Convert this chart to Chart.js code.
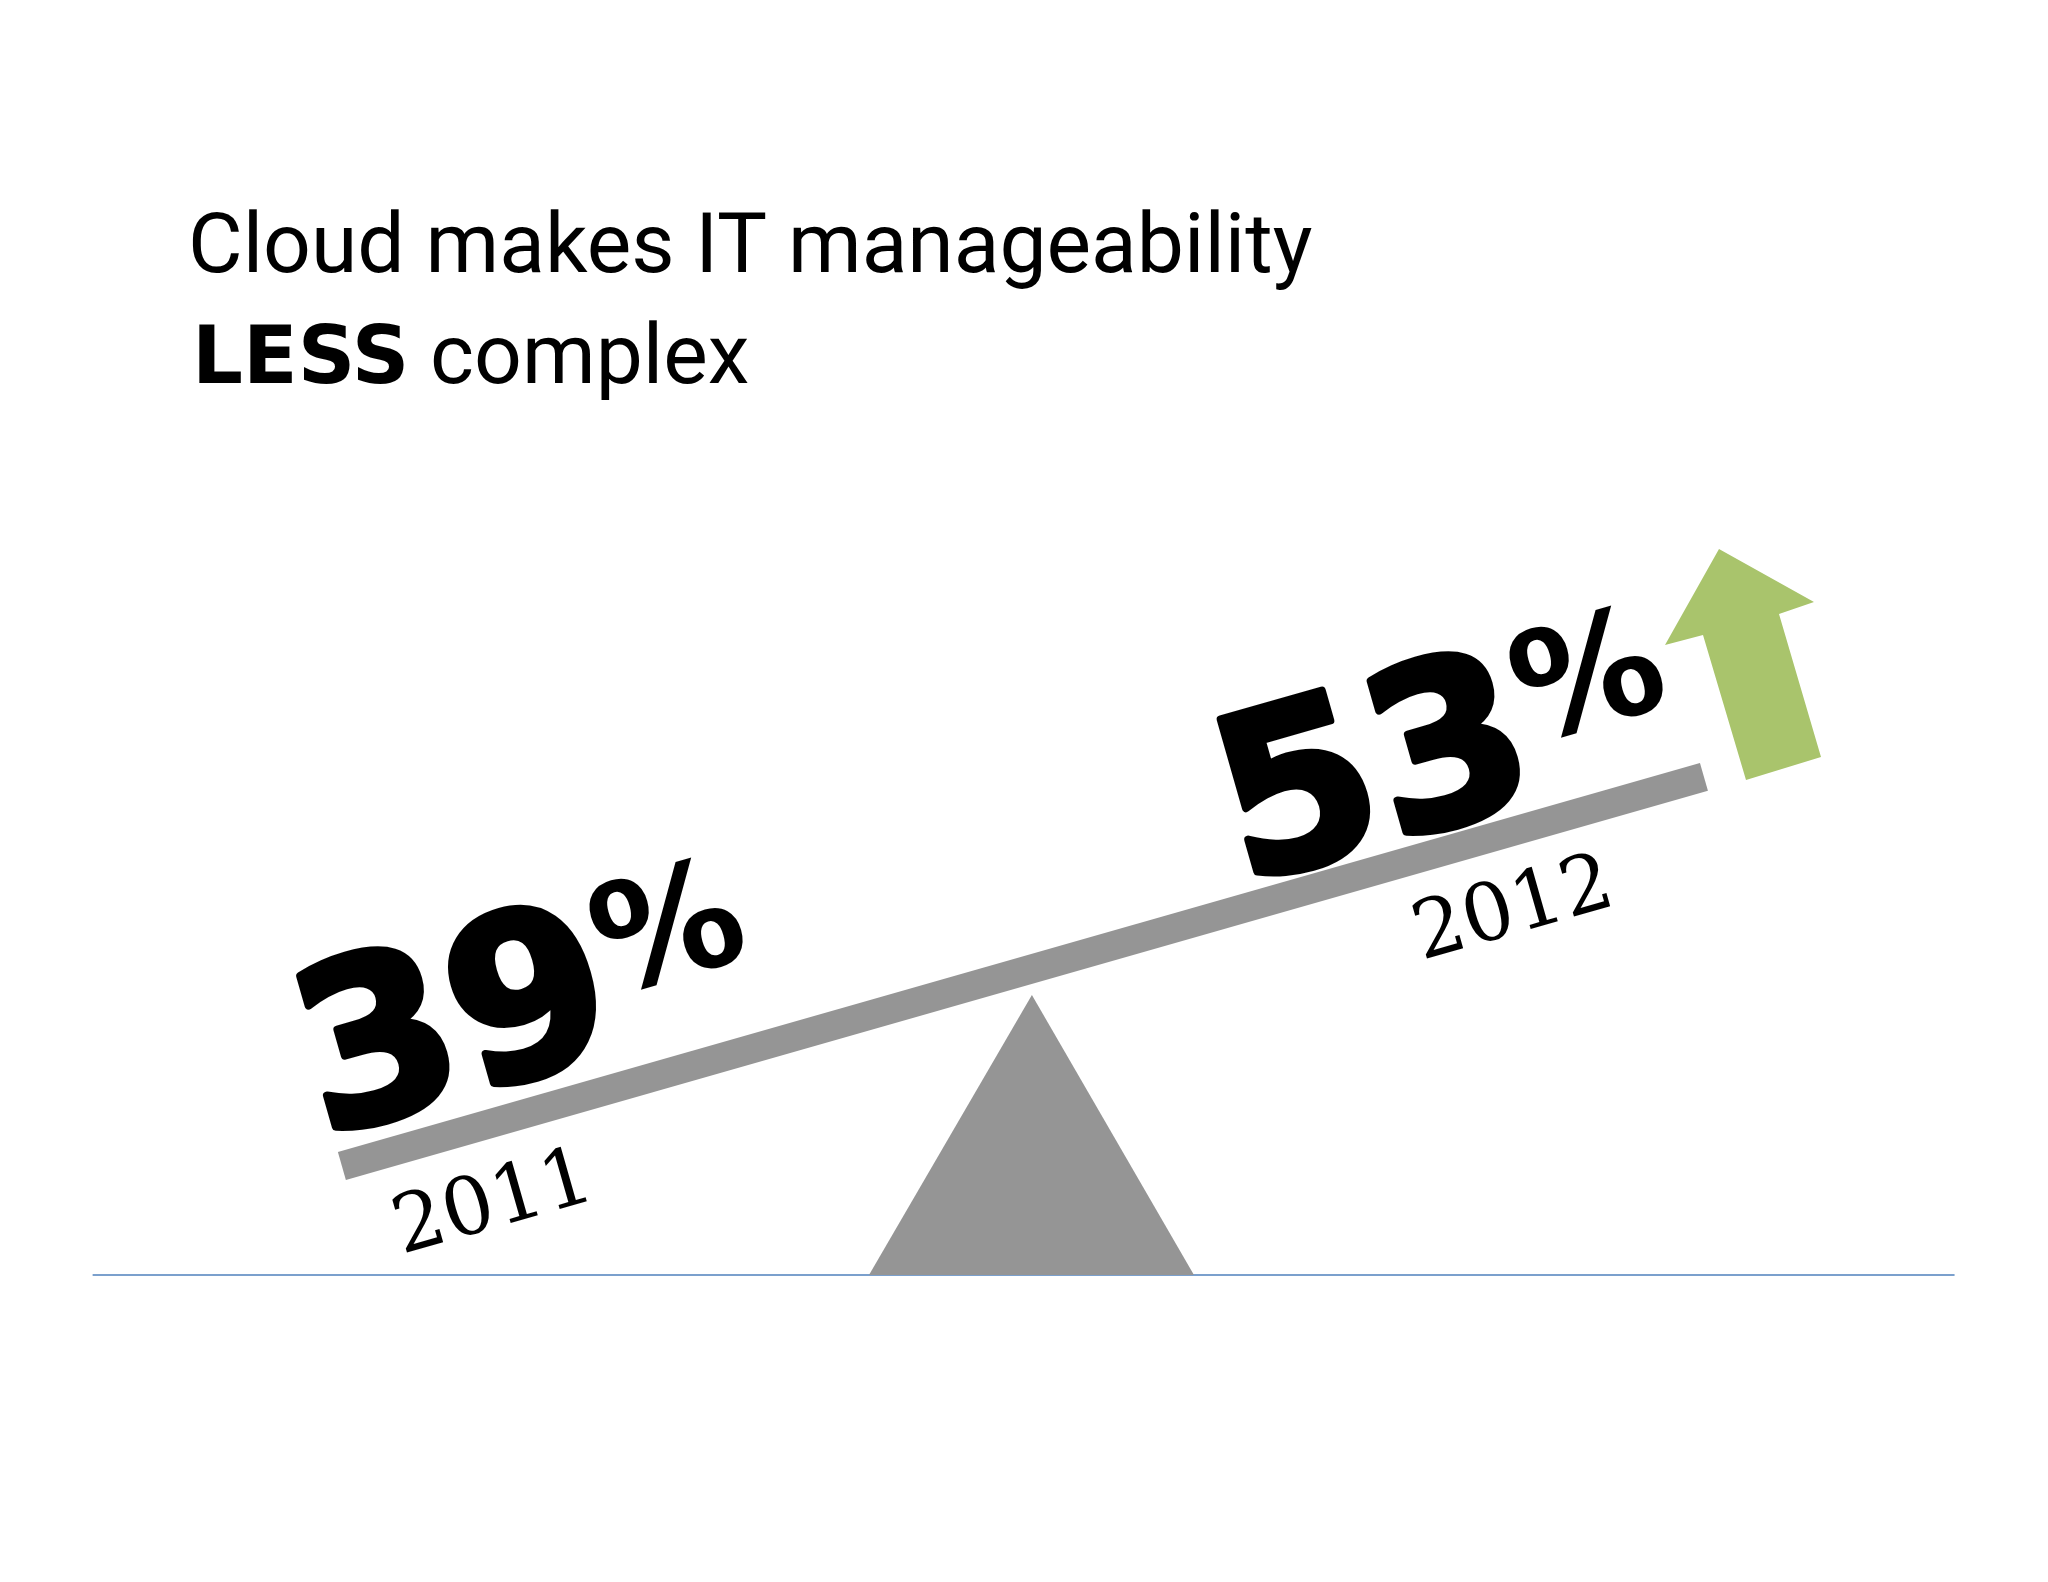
<!DOCTYPE html>
<html>
<head>
<meta charset="utf-8">
<script src="https://cdn.jsdelivr.net/npm/chart.js@4.4.0/dist/chart.umd.min.js"></script>
<style>
  html, body { margin: 0; padding: 0; background: #fff; }
  #wrap { width: 2048px; height: 1582px; }
</style>
</head>
<body>
<div id="wrap"><canvas id="seesaw" width="2048" height="1582"></canvas></div>
<script>
// data
const years = [2011, 2012];
const shares = [39, 53];
const titleLine1 = 'Cloud makes IT manageability';
const titleBold = 'LESS';
const titleRest = ' complex';

const beamColor = '#959595';
const arrowColor = '#a9c46c';

// fulcrum triangle and ground line, in axis units
const fulcrumX = [2011.387, 2011.5066, 2011.6256];
const groundY = 35.08;
const fulcrumTopY = 45.15;

const textPlugin = {
  id: 'seesawText',
  afterDatasetsDraw(chart) {
    const ctx = chart.ctx;
    const xs = chart.scales.x, ys = chart.scales.y;
    const x0 = xs.getPixelForValue(years[0]), y0 = ys.getPixelForValue(shares[0]);
    const x1 = xs.getPixelForValue(years[1]), y1 = ys.getPixelForValue(shares[1]);
    const ang = Math.atan2(y1 - y0, x1 - x0);

    // title
    ctx.save();
    ctx.fillStyle = '#000';
    ctx.textBaseline = 'alphabetic';
    ctx.font = '400 84px Roboto';
    ctx.fillText(titleLine1, 188, 272);
    ctx.font = '900 80px "DejaVu Sans"';
    ctx.fillText(titleBold, 192, 383);
    const w = ctx.measureText(titleBold).width;
    ctx.font = '400 84px Roboto';
    ctx.fillText(titleRest, 192 + w, 383);
    ctx.restore();

    // values and years along the beam
    const labels = [
      { v: shares[0], y: years[0], cx: 525, cy: 1000, yx: 494, yy: 1206 },
      { v: shares[1], y: years[1], cx: 1445, cy: 748, yx: 1514, yy: 912 }
    ];
    labels.forEach(l => {
      ctx.save();
      ctx.translate(l.cx, l.cy);
      ctx.rotate(ang);
      ctx.fillStyle = '#000';
      ctx.strokeStyle = '#000';
      ctx.lineWidth = 8;
      ctx.lineJoin = 'round';
      ctx.textBaseline = 'alphabetic';
      ctx.font = 'bold 225px "DejaVu Sans"';
      const num = String(l.v);
      const nw = ctx.measureText(num).width;
      ctx.font = 'bold 150px "DejaVu Sans"';
      const pw = ctx.measureText('%').width;
      const tot = nw + pw;
      ctx.font = 'bold 225px "DejaVu Sans"';
      ctx.fillText(num, -tot / 2, 75);
      ctx.strokeText(num, -tot / 2, 75);
      ctx.font = 'bold 150px "DejaVu Sans"';
      ctx.fillText('%', -tot / 2 + nw, 20);
      ctx.restore();

      ctx.save();
      ctx.translate(l.yx, l.yy);
      ctx.rotate(ang);
      ctx.fillStyle = '#000';
      ctx.textAlign = 'center';
      ctx.textBaseline = 'middle';
      ctx.font = '80px "DejaVu Serif"';
      ctx.fillText(String(l.y), 0, 0);
      ctx.restore();
    });

    // green up arrow
    ctx.save();
    ctx.fillStyle = arrowColor;
    ctx.beginPath();
    [[1719, 549], [1814, 602], [1779, 614], [1821, 757], [1746, 780], [1703, 635], [1665, 645]]
      .forEach((p, i) => i ? ctx.lineTo(p[0], p[1]) : ctx.moveTo(p[0], p[1]));
    ctx.closePath();
    ctx.fill();
    ctx.restore();
  }
};

new Chart(document.getElementById('seesaw').getContext('2d'), {
  type: 'scatter',
  data: {
    datasets: [
      {
        label: 'ground',
        data: [{ x: 2010.817, y: groundY }, { x: 2012.184, y: groundY }],
        showLine: true, borderColor: '#4f81bd', borderWidth: 1.5, pointRadius: 0, order: 3
      },
      {
        label: 'fulcrum',
        data: [
          { x: fulcrumX[0], y: groundY },
          { x: fulcrumX[1], y: fulcrumTopY },
          { x: fulcrumX[2], y: groundY }
        ],
        showLine: true, fill: 'shape', backgroundColor: beamColor, borderColor: beamColor,
        borderWidth: 0, pointRadius: 0, tension: 0, order: 2
      },
      {
        label: 'beam',
        data: years.map((y, i) => ({ x: y, y: shares[i] })),
        showLine: true, borderColor: beamColor, borderWidth: 29, borderCapStyle: 'butt',
        pointRadius: 0, order: 1
      }
    ]
  },
  options: {
    responsive: false,
    animation: false,
    layout: { padding: 0 },
    plugins: { legend: { display: false }, tooltip: { enabled: false } },
    scales: {
      x: { type: 'linear', min: 2010.749, max: 2012.2526, display: false },
      y: { type: 'linear', min: 24.04, max: 80.94, display: false }
    }
  },
  plugins: [textPlugin]
});
</script>
</body>
</html>
